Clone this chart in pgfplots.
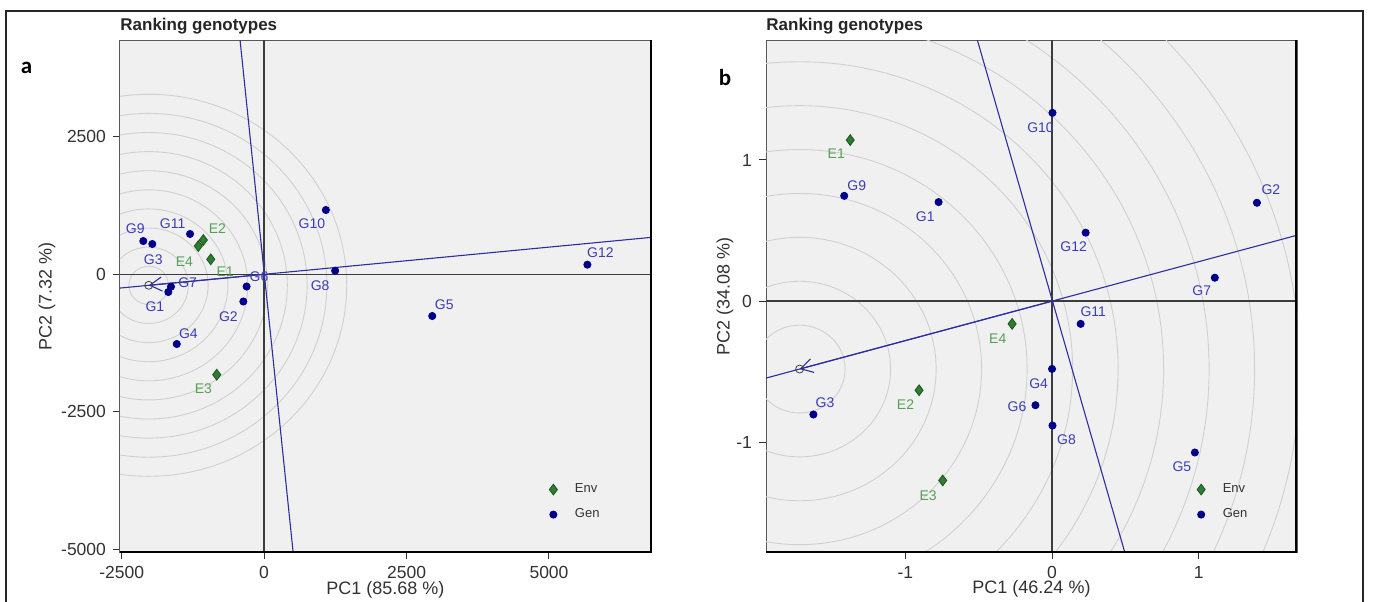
\documentclass[border=0pt]{standalone}
\usepackage{pgfplots}
\usepackage{pgfplotstable}
\pgfplotsset{compat=1.18}
\usetikzlibrary{arrows.meta}
\usepackage{fontspec}
\setmainfont{Liberation Sans}
\newfontfamily\carlito{Carlito}

\definecolor{bgc}{RGB}{240,240,240}
\definecolor{gencol}{RGB}{0,0,139}
\definecolor{genlab}{RGB}{60,60,180}
\definecolor{envcol}{RGB}{46,125,50}
\definecolor{envedge}{RGB}{25,85,25}
\definecolor{envlab}{RGB}{85,160,85}
\definecolor{linecol}{RGB}{45,45,160}
\definecolor{circcol}{RGB}{208,208,208}
\definecolor{zerocol}{RGB}{60,60,60}
\definecolor{tickcol}{RGB}{50,50,50}

\pgfplotstableread{
x y lab dx dy
-1681 -322 G1 -6.7 -7.5
-364 -494 G2 -7.5 -7.5
-1962 551 G3 0.5 -7.7
-1533 -1267 G4 5.8 5.3
2951 -758 G5 6 5.5
-307 -222 G6 6.2 5
-1634 -225 G7 8.3 2
1247 65 G8 -7.5 -7.5
-2120 605 G9 -4 6
1084 1169 G10 -7 -7
-1300 733 G11 -8.7 5
5674 175 G12 6.5 6
}\genA
\pgfplotstableread{
x y lab dx dy
-936 273 E1 7.2 -6.2
-1066 624 E2 7 5.5
-831 -1825 E3 -6.7 -6.8
-1154 514 E4 -7 -7.8
}\envA
\pgfplotstableread{
x y lab dx dy
-0.773 0.702 G1 -6.7 -7.2
1.396 0.697 G2 7 6.5
-1.626 -0.803 G3 5.8 5.8
0.0 -0.48 G4 -6.7 -7.5
0.973 -1.072 G5 -6.5 -7
-0.113 -0.737 G6 -9.2 -0.5
1.109 0.166 G7 -6.5 -6.5
0.003 -0.881 G8 7 -7
-1.416 0.746 G9 6.3 5
0.003 1.334 G10 -6 -7.5
0.195 -0.161 G11 6.3 6
0.229 0.485 G12 -6 -7
}\genB
\pgfplotstableread{
x y lab dx dy
-1.375 1.141 E1 -7 -7
-0.906 -0.631 E2 -6.8 -7.2
-0.745 -1.270 E3 -7.3 -7.5
-0.272 -0.161 E4 -7.2 -7.3
}\envB

\pgfplotsset{
 gge/.style={
  scale only axis, width=265.5pt, height=256pt,
  axis background/.style={fill=bgc},
  axis line style={draw=gray!70!black, line width=0.5pt},
  tick align=outside, xtick pos=left, ytick pos=left,
  major tick length=3.5pt,
  tick style={draw=tickcol, line width=0.5pt},
  ticklabel style={font=\fontsize{8.75}{10}\selectfont, text=tickcol},
  label style={font=\fontsize{9}{11}\selectfont, text=tickcol},
  legend style={draw=none, fill=none, font=\fontsize{6.5}{8}\selectfont, text=black!80, row sep=2.5pt},
  legend cell align=left,
  legend image code/.code={\path[draw=none,fill=none] (-3pt,-2pt) rectangle (8.8pt,2pt); \draw[##1] plot coordinates {(0pt,0pt)};},
 },
 genpts/.style={only marks, mark=*, mark size=1.8pt, color=gencol,
  nodes near coords, point meta=explicit symbolic,
  visualization depends on={\thisrow{dx}\as\dx},
  visualization depends on={\thisrow{dy}\as\dy},
  every node near coord/.style={font=\fontsize{7}{8}\selectfont, text=genlab, anchor=center, inner sep=0pt, xshift=\dx pt, yshift=\dy pt}},
 envpts/.style={only marks, mark=diamond*, mark size=2.7pt, draw=envedge, fill=envcol,
  nodes near coords, point meta=explicit symbolic,
  visualization depends on={\thisrow{dx}\as\dx},
  visualization depends on={\thisrow{dy}\as\dy},
  every node near coord/.style={font=\fontsize{7}{8}\selectfont, text=envlab, anchor=center, inner sep=0pt, xshift=\dx pt, yshift=\dy pt}},
}

\begin{document}
\begin{tikzpicture}
\useasboundingbox (0pt,0pt) rectangle (686.5pt,-300.5pt);
\draw[line width=0.6pt, black!85] (3pt,-320pt) -- (3pt,-5.5pt) -- (681.5pt,-5.5pt) -- (681.5pt,-320pt);

% ---------- panel a ----------
\begin{axis}[gge, at={(60pt,-276pt)}, anchor=south west,
  xmin=-2529, xmax=6790, ymin=-5048, ymax=4259,
  xtick={-2500,0,2500,5000}, xticklabels={-2500,0,2500,5000},
  ytick={-5000,-2500,0,2500}, yticklabels={-5000,-2500,0,2500},
  xlabel={PC1 (85.68 \%)}, ylabel={PC2 (7.32 \%)},
  x label style={at={(rel axis cs:0.5,-0.0742)}, anchor=center},
  y label style={at={(rel axis cs:-0.1375,0.5)}, anchor=center},
  legend style={at={(rel axis cs:0.7928,0.15)}, anchor=north west},
]
\pgfplotsinvokeforeach{1,...,10}{
  \draw[circcol, line width=0.45pt] (axis cs:-2025,-200) ellipse [x radius={#1*9.9pt}, y radius={#1*9.55pt}];
}
\addplot[zerocol, line width=0.7pt, forget plot] coordinates {(-3000,0) (7000,0)};
\addplot[zerocol, line width=0.7pt, forget plot] coordinates {(0,-6000) (0,5000)};
\addplot[linecol, line width=0.55pt, forget plot] coordinates {(-2529,-250) (6790,671)};
\addplot[linecol, line width=0.55pt, forget plot] coordinates {(-422,4259) (509,-5048)};
\addplot[linecol, line width=0.55pt, -{Straight Barb[length=6pt,width=7pt]}, forget plot] coordinates {(0,0) (-2025,-200)};
\addplot[only marks, mark=o, mark size=2pt, draw=black!75, forget plot] coordinates {(-2025,-200)};
\addplot[envpts, forget plot] table[x=x,y=y,meta=lab] {\envA};
\addplot[genpts, forget plot] table[x=x,y=y,meta=lab] {\genA};
\addlegendimage{only marks, mark=diamond*, mark size=2.7pt, draw=envedge, fill=envcol}
\addlegendentry{Env}
\addlegendimage{only marks, mark=*, mark size=1.8pt, color=gencol}
\addlegendentry{Gen}
\end{axis}

% ---------- panel b ----------
\begin{axis}[gge, at={(383pt,-276pt)}, anchor=south west,
  xmin=-1.949, xmax=1.669, ymin=-1.777, ymax=1.850,
  xtick={-1,0,1}, xticklabels={-1,0,1},
  ytick={-1,0,1}, yticklabels={-1,0,1},
  xlabel={PC1 (46.24 \%)}, ylabel={PC2 (34.08 \%)},
  x label style={at={(rel axis cs:0.5,-0.0727)}, anchor=center},
  y label style={at={(rel axis cs:-0.0774,0.5)}, anchor=center},
  legend style={at={(rel axis cs:0.7962,0.15)}, anchor=north west},
]
\pgfplotsinvokeforeach{1,...,11}{
  \draw[circcol, line width=0.45pt] (axis cs:-1.720,-0.481) ellipse [x radius={#1*22.75pt}, y radius={#1*21.95pt}];
}
\addplot[zerocol, line width=0.7pt, forget plot] coordinates {(-3,0) (3,0)};
\addplot[zerocol, line width=0.7pt, forget plot] coordinates {(0,-3) (0,3)};
\addplot[linecol, line width=0.55pt, forget plot] coordinates {(-1.949,-0.545) (1.669,0.467)};
\addplot[linecol, line width=0.55pt, forget plot] coordinates {(-0.509,1.850) (0.495,-1.777)};
\addplot[linecol, line width=0.55pt, -{Straight Barb[length=6pt,width=7pt]}, forget plot] coordinates {(0,0) (-1.720,-0.481)};
\addplot[only marks, mark=o, mark size=2pt, draw=black!75, forget plot] coordinates {(-1.720,-0.481)};
\addplot[envpts, forget plot] table[x=x,y=y,meta=lab] {\envB};
\addplot[genpts, forget plot] table[x=x,y=y,meta=lab] {\genB};
\addlegendimage{only marks, mark=diamond*, mark size=2.7pt, draw=envedge, fill=envcol}
\addlegendentry{Env}
\addlegendimage{only marks, mark=*, mark size=1.8pt, color=gencol}
\addlegendentry{Gen}
\end{axis}

% frame emphasis (right and bottom edges thicker)
\draw[line width=1.1pt, black] (60pt,-276pt) -- (325.5pt,-276pt) -- (325.5pt,-20pt);
\draw[line width=1.1pt, black] (383pt,-276pt) -- (648pt,-276pt) -- (648pt,-20pt);

% titles and panel letters
\node[anchor=base west, inner sep=0pt, font=\bfseries\fontsize{8.5}{10}\selectfont, text=black!85] at (60pt,-15.4pt) {Ranking genotypes};
\node[anchor=base west, inner sep=0pt, font=\bfseries\fontsize{8.5}{10}\selectfont, text=black!85] at (383pt,-15.4pt) {Ranking genotypes};
\node[anchor=base, inner sep=0pt, font=\carlito\bfseries\fontsize{11.5}{13}\selectfont] at (13.3pt,-36.7pt) {a};
\node[anchor=base, inner sep=0pt, font=\carlito\bfseries\fontsize{11.5}{13}\selectfont] at (362.5pt,-42.5pt) {b};
\end{tikzpicture}
\end{document}
